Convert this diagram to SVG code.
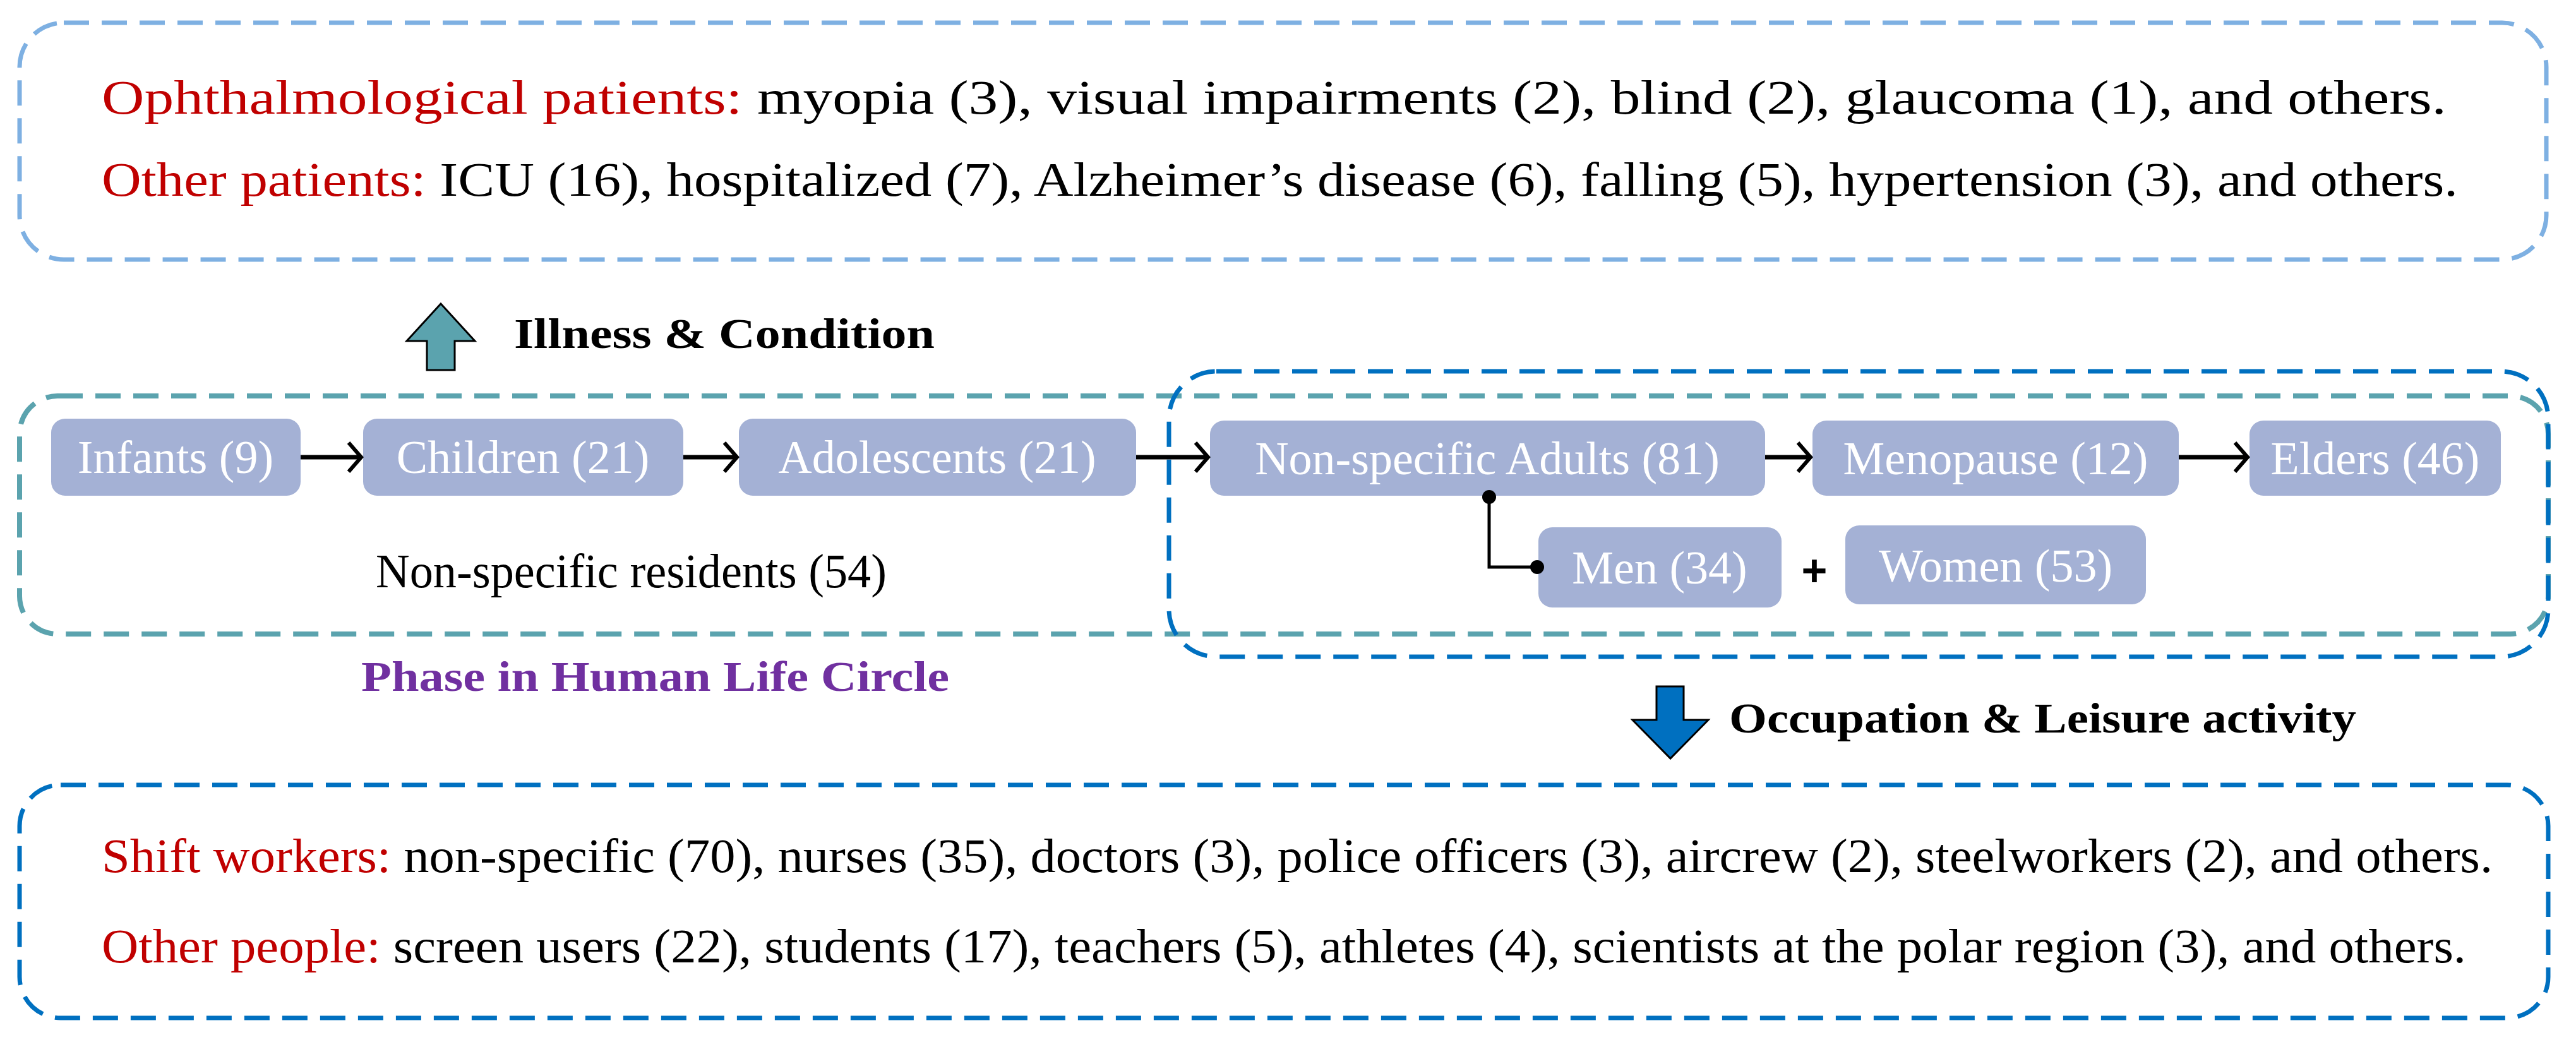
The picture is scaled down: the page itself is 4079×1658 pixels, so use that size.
<svg xmlns="http://www.w3.org/2000/svg" width="4079" height="1658" viewBox="0 0 4079 1658">
<defs>
<style>
.t{font-family:"Liberation Serif","DejaVu Serif",serif;font-size:76px;fill:#000}
.r{fill:#C00000}
.n{fill:#A4B1D5}
.nt{font-family:"Liberation Serif","DejaVu Serif",serif;font-size:74px;fill:#fff;text-anchor:middle}
.b{font-family:"Liberation Serif","DejaVu Serif",serif;font-size:68px;font-weight:bold}
.c{stroke:#000;stroke-width:7;fill:none}
</style>
<marker id="ah" viewBox="0 0 10 10" refX="10" refY="5" markerWidth="10" markerHeight="10" orient="auto" markerUnits="userSpaceOnUse" overflow="visible"><path d="M-10,-18 L10,5 L-10,28" fill="none" stroke="#000" stroke-width="6"/></marker>
</defs>
<rect width="4079" height="1658" fill="#fff"/>
<g id="illness-box">
<rect x="31" y="36" width="4001" height="375" rx="70" fill="none" stroke="#7EB0E2" stroke-width="7" stroke-dasharray="40 20"/>
<text class="t" x="161" y="180" textLength="3713" lengthAdjust="spacingAndGlyphs"><tspan class="r">Ophthalmological patients:</tspan> myopia (3), visual impairments (2), blind (2), glaucoma (1), and others.</text>
<text class="t" x="161" y="310" textLength="3731" lengthAdjust="spacingAndGlyphs"><tspan class="r">Other patients:</tspan> ICU (16), hospitalized (7), Alzheimer’s disease (6), falling (5), hypertension (3), and others.</text>
</g>
<g id="illness-label">
<path d="M698,481 L752,540 L720,540 L720,586 L676,586 L676,540 L644,540 Z" fill="#5BA3AE" stroke="#000" stroke-width="3"/>
<text class="b" x="814" y="551" textLength="666" lengthAdjust="spacingAndGlyphs">Illness &amp; Condition</text>
</g>
<g id="phase-box">
<rect x="31" y="627" width="4004" height="377" rx="60" fill="none" stroke="#5BA3AE" stroke-width="8" stroke-dasharray="40 20"/>
<text class="t" x="595" y="930" textLength="809" lengthAdjust="spacingAndGlyphs">Non-specific residents (54)</text>
<text class="b" x="572" y="1094" textLength="931" lengthAdjust="spacingAndGlyphs" fill="#7030A0">Phase in Human Life Circle</text>
</g>
<g id="adult-box">
<rect x="1851" y="588" width="2184" height="452" rx="75" fill="none" stroke="#0070C0" stroke-width="7" stroke-dasharray="40 20"/>
</g>
<g id="infants"><rect class="n" x="81" y="663" width="395" height="122" rx="22"/><text class="nt" x="278" y="749">Infants (9)</text></g>
<g id="children"><rect class="n" x="575" y="663" width="507" height="122" rx="22"/><text class="nt" x="828" y="749">Children (21)</text></g>
<g id="adolescents"><rect class="n" x="1170" y="663" width="629" height="122" rx="22"/><text class="nt" x="1484" y="749">Adolescents (21)</text></g>
<g id="adults"><rect class="n" x="1916" y="666" width="879" height="119" rx="22"/><text class="nt" x="2355" y="751">Non-specific Adults (81)</text></g>
<g id="menopause"><rect class="n" x="2870" y="666" width="580" height="119" rx="22"/><text class="nt" x="3160" y="751">Menopause (12)</text></g>
<g id="elders"><rect class="n" x="3562" y="666" width="398" height="119" rx="22"/><text class="nt" x="3761" y="751">Elders (46)</text></g>
<g id="men"><rect class="n" x="2436" y="835" width="385" height="127" rx="22"/><text class="nt" x="2628" y="924">Men (34)</text></g>
<g id="women"><rect class="n" x="2922" y="832" width="476" height="125" rx="22"/><text class="nt" x="3160" y="921">Women (53)</text></g>
<g id="plus"><text x="2873" y="928" font-family="Liberation Sans,sans-serif" font-size="70" font-weight="bold" text-anchor="middle">+</text></g>
<g id="connectors">
<line class="c" x1="476" y1="724" x2="572" y2="724" marker-end="url(#ah)"/>
<line class="c" x1="1082" y1="724" x2="1167" y2="724" marker-end="url(#ah)"/>
<line class="c" x1="1799" y1="724" x2="1913" y2="724" marker-end="url(#ah)"/>
<line class="c" x1="2795" y1="724" x2="2867" y2="724" marker-end="url(#ah)"/>
<line class="c" x1="3450" y1="724" x2="3559" y2="724" marker-end="url(#ah)"/>
<path d="M2358,785 V898 H2436" fill="none" stroke="#000" stroke-width="5"/>
<circle cx="2358" cy="787" r="11"/>
<circle cx="2434" cy="898" r="11"/>
</g>
<g id="occupation-label">
<path d="M2623,1087 L2666,1087 L2666,1140 L2705,1140 L2645,1201 L2585,1140 L2623,1140 Z" fill="#0070C0" stroke="#000" stroke-width="3"/>
<text class="b" x="2738" y="1160" textLength="993" lengthAdjust="spacingAndGlyphs">Occupation &amp; Leisure activity</text>
</g>
<g id="occupation-box">
<rect x="31" y="1243" width="4004" height="369" rx="65" fill="none" stroke="#0070C0" stroke-width="7" stroke-dasharray="40 20"/>
<text class="t" x="161" y="1381" textLength="3786" lengthAdjust="spacingAndGlyphs"><tspan class="r">Shift workers:</tspan> non-specific (70), nurses (35), doctors (3), police officers (3), aircrew (2), steelworkers (2), and others.</text>
<text class="t" x="161" y="1524" textLength="3744" lengthAdjust="spacingAndGlyphs"><tspan class="r">Other people:</tspan> screen users (22), students (17), teachers (5), athletes (4), scientists at the polar region (3), and others.</text>
</g>
</svg>
